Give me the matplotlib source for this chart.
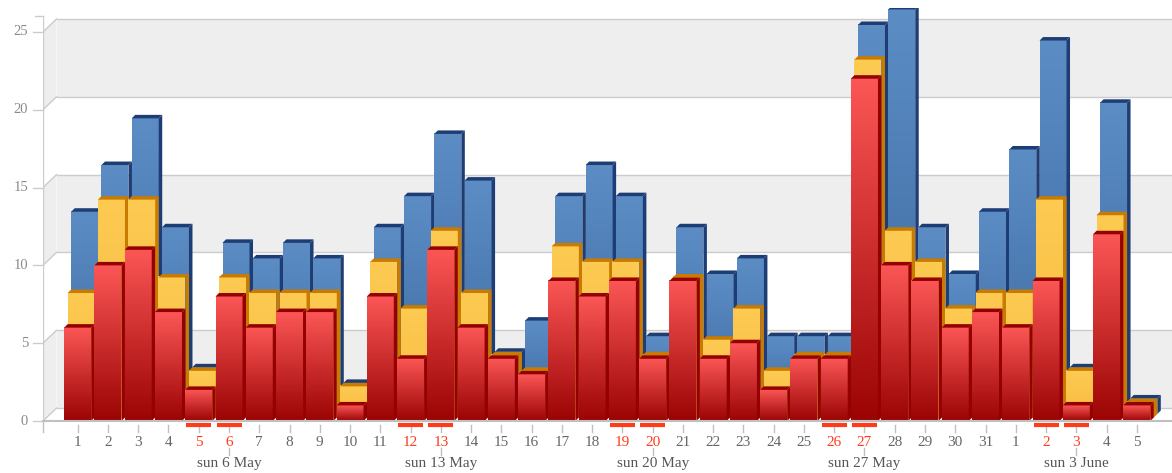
import numpy as np
import matplotlib.pyplot as plt
from matplotlib.patches import Polygon
from matplotlib.colors import LinearSegmentedColormap

# values per day, 1 May .. 5 June
days = [str(d) for d in range(1, 32)] + [str(d) for d in range(1, 6)]
weekend = [4, 5, 11, 12, 18, 19, 25, 26, 32, 33]
sundays = [5, 12, 19, 26, 33]
sunday_labels = ['sun 6 May', 'sun 13 May', 'sun 20 May', 'sun 27 May', 'sun 3 June']

blue = [13, 16, 19, 12, 3, 11, 10, 11, 10, 2, 12, 14, 18, 15, 4, 6, 14, 16, 14, 5,
        12, 9, 10, 5, 5, 5, 25, 26, 12, 9, 13, 17, 24, 3, 20, 1]
yellow = [8, 14, 14, 9, 3, 9, 8, 8, 8, 2, 10, 7, 12, 8, 4, 3, 11, 10, 10, 4,
          9, 5, 7, 3, 4, 4, 23, 12, 10, 7, 8, 8, 14, 3, 13, 1]
red = [6, 10, 11, 7, 2, 8, 6, 7, 7, 1, 8, 4, 11, 6, 4, 3, 9, 8, 9, 4,
       9, 4, 5, 2, 4, 4, 22, 10, 9, 6, 7, 6, 9, 1, 12, 1]

SLOT = 30.26   # px per category
UNIT = 15.56   # px per value unit
PX = 1 / SLOT
PY = 1 / UNIT

W, H = 1172, 473
fig = plt.figure(figsize=(W / 100, H / 100), dpi=100)
left_px, right_px, top_px, bot_px = 43, 1172, 8, 421
ax = fig.add_axes([left_px / W, (H - bot_px) / H, (right_px - left_px) / W, (bot_px - top_px) / H])
xl = (left_px - 77.7) / SLOT
xr = xl + (right_px - left_px) / SLOT
ax.set_xlim(xl, xr)
ax.set_ylim(0, (bot_px - top_px) / UNIT)
ax.axis('off')

grid_c = '#cccccc'
band_c = '#eeeeee'
BX, BY = 13.5 * PX, 13 * PY

# back wall, side wall and floor
for k in range(5):
    col = band_c if k % 2 == 0 else 'white'
    lo, hi = 5 * k, 5 * k + 5
    ax.add_patch(Polygon([(xl + BX, lo + BY), (xr, lo + BY), (xr, hi + BY), (xl + BX, hi + BY)],
                         closed=True, fc=col, ec='none', zorder=0))
    ax.add_patch(Polygon([(xl, lo), (xl + BX, lo + BY), (xl + BX, hi + BY), (xl, hi)],
                         closed=True, fc=col, ec='none', zorder=0))
for k in range(6):
    v = 5 * k
    ax.plot([xl + BX, xr], [v + BY, v + BY], color=grid_c, lw=1, zorder=0.5)
    ax.plot([xl, xl + BX], [v, v + BY], color=grid_c, lw=1, zorder=0.5)
    ax.plot([xl - 10 * PX, xl], [v, v], color=grid_c, lw=1, zorder=0.5, clip_on=False)
    ax.text(xl - 15 * PX, v, str(v), ha='right', va='center', fontsize=10.5,
            family='Liberation Serif', color='#8a8a8a')
ax.plot([xl, xl], [0, 26], color=grid_c, lw=1, zorder=0.6)
ax.plot([xl - 8 * PX, xl], [26, 26], color=grid_c, lw=1, zorder=0.6, clip_on=False)
ax.plot([xl, xr], [0, 0], color='#c0c0c0', lw=1.5, zorder=6, clip_on=False)

x = np.arange(len(days))
bw = 27 / SLOT
T = 3.5  # depth of one layer in px

layers = [
    (blue, 2, '#5b8dc4', '#3c689f', '#1d3d74', 1),
    (yellow, 1, '#fdca52', '#f8bb3f', '#c97a00', 2),
    (red, 0, '#fb5656', '#9c0404', '#950000', 3),
]
for vals, depth, c_top, c_bot, c_side, zb in layers:
    ox, oy = depth * T * PX, depth * T * PY
    bars = ax.bar(x + ox, vals, bw, bottom=oy, color=c_bot, linewidth=0, zorder=zb)
    cmap = LinearSegmentedColormap.from_list('g', [c_bot, c_top])
    grad = np.linspace(0, 1, 64).reshape(-1, 1)
    for i, (b, v) in enumerate(zip(bars, vals)):
        z = zb + i * 0.001
        x0, x1 = b.get_x(), b.get_x() + b.get_width()
        y0, y1 = oy, oy + v
        ax.imshow(grad, extent=[x0, x1, y0, y1], origin='lower', aspect='auto',
                  cmap=cmap, interpolation='bilinear', zorder=z)
        b.set_zorder(z)
        ax.add_patch(Polygon([(x1, y0), (x1, y1), (x1 + T * PX, y1 + T * PY), (x1 + T * PX, y0 + T * PY)],
                             closed=True, fc=c_side, ec='none', zorder=z))
        ax.add_patch(Polygon([(x0, y1), (x1, y1), (x1 + T * PX, y1 + T * PY), (x0 + T * PX, y1 + T * PY)],
                             closed=True, fc=c_side, ec='none', zorder=z))
ax.set_xlim(xl, xr)
ax.set_ylim(0, (bot_px - top_px) / UNIT)

# category axis
ax.plot([xl, xl], [0, -11 * PY], color='#c0c0c0', lw=1, clip_on=False)
for i, d in enumerate(days):
    ax.plot([i, i], [-4 * PY, -11 * PY], color='#c0c0c0', lw=1, clip_on=False)
    is_we = i in weekend
    ax.text(i, -21 * PY, d, ha='center', va='center', fontsize=11, family='Liberation Serif',
            color='#ff3b1a' if is_we else '#666666')
    if is_we:
        ax.plot([i - 12.5 * PX, i + 12.5 * PX], [-4 * PY, -4 * PY], color='#ff3b1a', lw=3,
                solid_capstyle='butt', clip_on=False)
for i, lab in zip(sundays, sunday_labels):
    ax.plot([i, i], [-27 * PY, -34 * PY], color='#c0c0c0', lw=1, clip_on=False)
    ax.text(i, -42 * PY, lab, ha='center', va='center', fontsize=11, family='Liberation Serif',
            color='#555555')

fig.savefig('out.png', dpi=100)
